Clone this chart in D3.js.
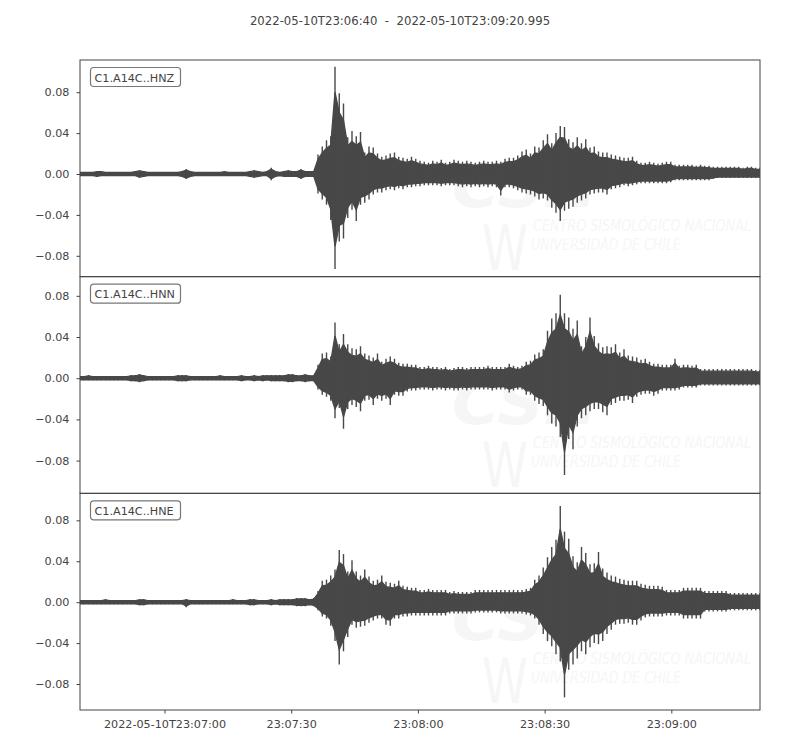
<!DOCTYPE html>
<html>
<head>
<meta charset="utf-8">
<script src="https://cdn.jsdelivr.net/npm/d3@7"></script>
<style>
  body { margin: 0; background: #fff; }
  text { font-family: "DejaVu Sans", sans-serif; white-space: pre; }
</style>
</head>
<body>
<div id="chart-area"></div>
<script>
// Stream C1.A14C, 2022-05-10T23:06:40 .. 23:09:20.995
// envelope read per second (upper / lower amplitude, in units of 0.001)

const title = '2022-05-10T23:06:40  -  2022-05-10T23:09:20.995';
const channels = ['C1.A14C..HNZ', 'C1.A14C..HNN', 'C1.A14C..HNE'];
const duration = 160.995;
const unit = 0.001;

const tickSeconds = [20, 50, 80, 110, 140];
const tickLabels = ['2022-05-10T23:07:00', '23:07:30', '23:08:00', '23:08:30', '23:09:00'];
const yTicks = [-0.08, -0.04, 0, 0.04, 0.08];
const yDomains = [[-0.1004, 0.1115], [-0.1118, 0.0986], [-0.1054, 0.1064]];

const hnzUpper = [
  2,2,2,2,3,3,2,2,2,2, 2,2,2,3,4,3,2,2,2,2, 2,2,2,2,3,5,3,2,2,2, 2,2,2,2,3,2,2,2,2,2,
  3,4,3,2,3,6,3,2,3,4, 3,3,5,3,3,3,19,27,33,37, 105,79,69,36,42,37,41,21,27,26,
  20,17,18,20,21,17,16,15,17,15, 13,12,11,13,12,14,11,12,14,13, 12,13,12,11,12,13,12,12,13,12,
  15,16,16,18,22,24,20,27,26,33, 39,30,40,47,46,34,31,36,30,34, 26,27,22,21,21,19,18,17,16,16,
  17,13,11,11,12,11,10,11,12,12, 9,9,9,9,9,8,9,8,8,7, 7,7,7,7,7,7,6,7,7,6,6
];
const hnzLower = [
  2,2,2,2,3,2,2,2,2,2, 2,2,2,2,4,3,2,2,2,2, 2,2,2,2,3,5,3,2,2,2, 2,2,2,2,2,2,2,2,2,2,
  3,4,3,2,2,6,3,2,3,3, 3,3,5,3,3,3,19,25,30,45, 93,66,63,43,35,46,30,28,25,20,
  18,18,16,15,16,14,15,13,13,12, 12,11,11,11,11,12,11,11,11,12, 13,12,13,12,13,12,13,12,13,21,
  13,13,14,16,18,19,20,22,25,24, 26,33,38,46,36,34,32,28,26,24, 20,19,18,18,20,15,14,13,11,12,
  11,10,9,9,9,9,9,9,9,8, 6,6,6,6,6,6,6,6,6,5, 4,4,4,4,4,4,4,4,4,4,4
];

const hnnUpper = [
  2,2,3,2,2,2,2,2,2,2, 2,2,3,3,4,3,2,2,2,2, 2,2,2,3,3,3,2,2,2,2, 2,2,2,3,2,2,2,2,3,2,
  2,3,2,3,3,3,3,3,3,4, 4,3,3,4,3,3,13,24,25,21, 54,33,43,33,29,28,31,24,22,20,
  24,16,19,21,19,15,14,14,13,13, 11,11,12,11,11,10,11,9,10,11, 11,10,11,11,11,11,12,11,11,11,
  11,14,12,11,12,16,17,23,25,28, 46,58,63,81,63,59,48,56,31,40, 59,41,34,30,31,30,33,25,28,22,
  21,20,18,19,16,14,14,13,13,13, 19,12,13,13,12,13,9,9,9,9, 9,9,9,9,9,9,9,9,9,8,8
];
const hnnLower = [
  2,2,2,2,2,2,2,2,2,2, 2,2,3,3,4,3,2,2,2,2, 2,2,2,3,3,3,2,2,2,2, 2,2,2,2,2,2,2,2,3,2,
  2,3,2,3,2,3,3,3,3,4, 4,3,3,4,3,3,11,16,18,22, 39,29,49,30,26,28,32,22,21,26,
  20,22,20,26,16,17,17,13,12,12, 11,11,11,12,11,11,12,11,12,12, 11,12,11,11,11,11,11,12,11,11,
  11,14,12,11,11,16,16,22,25,27, 36,44,47,57,94,59,69,47,39,36, 32,30,30,33,36,26,24,22,22,21,
  24,18,16,15,15,17,15,12,12,12, 12,11,9,9,9,9,7,7,7,7, 7,7,7,7,7,7,7,7,7,7,7
];

const hneUpper = [
  2,2,2,2,2,2,3,2,2,2, 2,2,2,2,3,3,2,2,2,2, 2,2,2,2,2,3,2,2,2,2, 2,2,2,2,2,2,3,2,2,2,
  3,3,2,2,2,3,2,3,3,3, 3,4,4,4,3,4,11,21,22,26, 32,51,47,30,41,30,26,32,25,21,
  22,26,20,19,18,21,16,15,14,14, 12,12,13,12,12,12,12,10,11,10, 10,10,10,12,12,12,12,12,12,12,
  12,12,12,12,12,13,14,22,26,34, 44,54,61,94,69,62,45,39,54,48, 37,38,49,33,29,26,25,23,22,21,
  21,21,18,17,16,16,16,15,12,12, 12,12,14,14,14,14,14,11,11,11, 11,11,11,9,9,9,9,9,9,9,9
];
const hneLower = [
  2,2,2,2,2,2,2,2,2,2, 2,2,2,2,3,3,2,2,2,2, 2,2,2,2,2,5,2,2,2,2, 2,2,2,2,2,2,2,2,2,2,
  3,3,2,2,2,3,2,3,3,3, 3,4,4,4,3,4,8,14,16,23, 38,61,48,34,22,25,24,23,20,18,
  16,16,22,23,16,16,14,14,13,13, 13,13,13,13,13,13,13,11,11,11, 11,11,11,10,10,10,10,10,10,11,
  11,11,11,11,11,12,13,16,22,31, 38,43,51,58,93,66,61,55,48,51, 44,40,41,38,31,27,22,21,21,20,
  22,22,18,15,14,14,14,14,13,13, 13,13,16,16,16,16,16,9,9,9, 9,9,9,8,8,8,8,8,8,8,8
];

const uppers = [hnzUpper, hnnUpper, hneUpper];
const lowers = [hnzLower, hnnLower, hneLower];

const W = 800, H = 750;
const margin = { top: 60, right: 40, bottom: 40, left: 80 };
const plotW = W - margin.left - margin.right;
const plotH = H - margin.top - margin.bottom;
const panelH = plotH / channels.length;
const ink = '#444';
const traceColor = '#484848';
const bodyRatio = 0.76;   // dense core of the trace, peaks drawn as needles

const svg = d3.select('#chart-area')
  .append('svg')
    .attr('width', W)
    .attr('height', H);

svg.append('text')
  .attr('x', 400)
  .attr('y', 25)
  .attr('text-anchor', 'middle')
  .attr('font-size', 11.7)
  .attr('fill', ink)
  .attr('xml:space', 'preserve')
  .text(title);

const x = d3.scaleLinear()
  .domain([0, duration])
  .range([0, plotW]);

channels.forEach((name, k) => {
  const top = margin.top + k * panelH;
  const g = svg.append('g')
    .attr('transform', 'translate(' + margin.left + ',' + top + ')');

  const y = d3.scaleLinear()
    .domain(yDomains[k])
    .range([panelH, 0]);

  g.append('clipPath')
    .attr('id', 'clip' + k)
    .append('rect')
      .attr('width', plotW)
      .attr('height', panelH);

  // faint CSN watermark
  const wm = g.append('g')
    .attr('fill', '#f6f6f6');
  wm.append('text')
    .attr('x', 372).attr('y', 147)
    .attr('font-family', 'Liberation Sans, sans-serif')
    .attr('font-weight', 'bold').attr('font-style', 'italic')
    .attr('font-size', 60)
    .attr('textLength', 146).attr('lengthAdjust', 'spacingAndGlyphs')
    .text('CSN');
  wm.append('text')
    .attr('x', 402).attr('y', 210)
    .attr('font-family', 'Liberation Sans Narrow, Liberation Sans, sans-serif')
    .attr('font-size', 62)
    .attr('textLength', 46).attr('lengthAdjust', 'spacingAndGlyphs')
    .text('W');
  wm.append('text')
    .attr('x', 453).attr('y', 171)
    .attr('font-family', 'Liberation Sans Narrow, Liberation Sans, sans-serif')
    .attr('font-style', 'italic')
    .attr('font-size', 16)
    .attr('textLength', 218).attr('lengthAdjust', 'spacingAndGlyphs')
    .text('CENTRO SISMOLÓGICO NACIONAL');
  wm.append('text')
    .attr('x', 451).attr('y', 190)
    .attr('font-family', 'Liberation Sans Narrow, Liberation Sans, sans-serif')
    .attr('font-style', 'italic')
    .attr('font-size', 16)
    .attr('textLength', 150).attr('lengthAdjust', 'spacingAndGlyphs')
    .text('UNIVERSIDAD DE CHILE');

  // trace envelope
  const n = uppers[k].length;
  const rows = uppers[k].map((u, i) => ({
    t: i * duration / (n - 1),
    hi: u * unit,
    lo: -lowers[k][i] * unit
  }));

  const trace = g.append('g')
    .attr('clip-path', 'url(#clip' + k + ')');

  const body = d3.area()
    .x(d => x(d.t))
    .y0(d => y(d.lo * bodyRatio))
    .y1(d => y(d.hi * bodyRatio));

  trace.append('path')
    .datum(rows)
    .attr('d', body)
    .attr('fill', traceColor)
    .attr('stroke', traceColor)
    .attr('stroke-width', 1.4);

  trace.selectAll('line')
    .data(rows)
    .enter()
    .append('line')
      .attr('x1', d => x(d.t))
      .attr('x2', d => x(d.t))
      .attr('y1', d => y(d.lo))
      .attr('y2', d => y(d.hi))
      .attr('stroke', traceColor)
      .attr('stroke-width', 1.4);

  // y axis
  const yAxis = g.append('g')
    .call(d3.axisLeft(y)
      .tickValues(yTicks)
      .tickSize(3.5)
      .tickPadding(7)
      .tickFormat(d => d3.format('.2f')(d).replace('-', '\u2212')));
  yAxis.select('.domain').remove();
  yAxis.selectAll('line').attr('stroke', ink);
  yAxis.selectAll('text')
    .attr('fill', ink)
    .attr('font-size', 11.2)
    .attr('font-family', 'DejaVu Sans, sans-serif');

  // x axis only on the last panel
  if (k === channels.length - 1) {
    const xAxis = g.append('g')
      .attr('transform', 'translate(0,' + panelH + ')')
      .call(d3.axisBottom(x)
        .tickValues(tickSeconds)
        .tickSize(3.5)
        .tickPadding(7)
        .tickFormat((d, i) => tickLabels[i]));
    xAxis.select('.domain').remove();
    xAxis.selectAll('line').attr('stroke', ink);
    xAxis.selectAll('text')
      .attr('fill', ink)
      .attr('font-size', 11.2)
      .attr('font-family', 'DejaVu Sans, sans-serif');
  }

  // frame
  g.append('rect')
    .attr('width', plotW)
    .attr('height', panelH)
    .attr('fill', 'none')
    .attr('stroke', ink)
    .attr('stroke-width', 1);

  // channel label
  const lab = g.append('g').attr('transform', 'translate(10.5,7.5)');
  lab.append('rect')
    .attr('width', 90)
    .attr('height', 19)
    .attr('rx', 3)
    .attr('fill', '#fff')
    .attr('stroke', '#777')
    .attr('stroke-width', 1.2);
  lab.append('text')
    .attr('x', 4)
    .attr('y', 14)
    .attr('font-size', 11.2)
    .attr('fill', ink)
    .text(name);
});
</script>
</body>
</html>
